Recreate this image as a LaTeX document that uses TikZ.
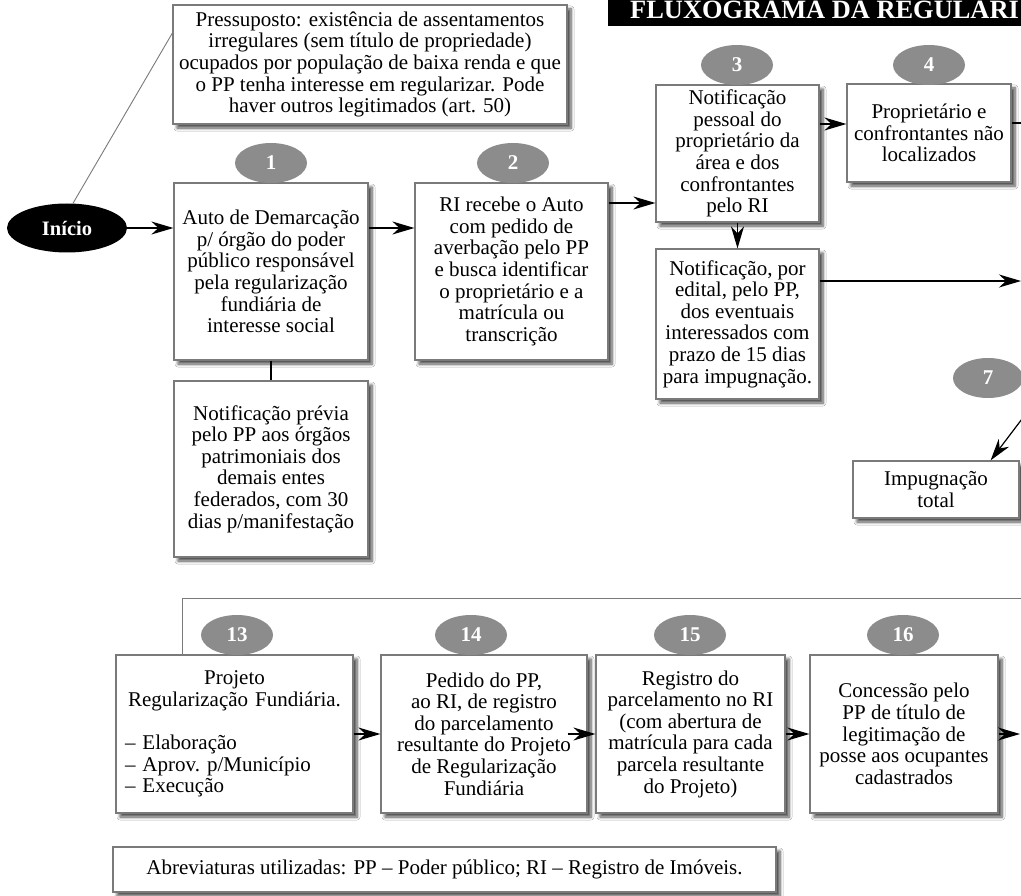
\documentclass[tikz,border=0pt]{standalone}
\usepackage{fontspec}
\setmainfont{Liberation Serif}
\usetikzlibrary{arrows.meta,shapes.geometric,shadows.blur}
\definecolor{boxgray}{HTML}{7A7A7A}
\definecolor{badgegray}{HTML}{8C8C8C}
\newcommand{\fsz}{\fontsize{21}{21.6}\selectfont}
\begin{document}
\begin{tikzpicture}[x=1pt,y=-1pt,
  box/.style={draw=boxgray, line width=1.2pt, fill=white, align=center, inner sep=2pt,
    font=\fsz, blur shadow={shadow xshift=4pt, shadow yshift=-4pt, shadow blur steps=6, shadow blur radius=3pt, shadow opacity=70}},
  badge/.style={ellipse, fill=badgegray, minimum width=72pt, minimum height=40pt, inner sep=0pt,
    text=white, font=\fontsize{21}{22}\selectfont\bfseries},
  arr/.style={-{Stealth[length=22pt,width=13pt,inset=7pt]}, line width=1.2pt, black},
  ln/.style={line width=1.2pt, black},
  thin/.style={line width=0.9pt, boxgray}
]
\clip (0,0) rectangle (1021,896);
\fill[white] (0,0) rectangle (1021,896);

% title bar
\fill[black] (608,-5) rectangle (1040,26);
\node[anchor=base west, inner sep=0pt, text=white, font=\fontsize{26.4}{28}\selectfont\bfseries] (title) at (630,19) {FLUXOGRAMA DA REGULARI};

% start
\node[ellipse, fill=black, minimum width=120pt, minimum height=49pt, inner sep=0pt, text=white,
  font=\fontsize{20.5}{22}\selectfont\bfseries] (inicio) at (67,228) {Início};

% boxes
\node[box, minimum width=394pt, minimum height=119pt] (press) at (370,64.5)
 {Pressuposto: existência de assentamentos\\irregulares (sem título de propriedade)\\ocupados por população de baixa renda e que\\o PP tenha interesse em regularizar. Pode\\haver outros legitimados (art. 50)};

\node[box, minimum width=194pt, minimum height=177pt] (b1) at (271,271.5)
 {Auto de Demarcação\\p/ órgão do poder\\público responsável\\pela regularização\\fundiária de\\interesse social};

\node[box, minimum width=194pt, minimum height=176pt] (pv) at (271,469)
 {Notificação prévia\\pelo PP aos órgãos\\patrimoniais dos\\demais entes\\federados, com 30\\dias p/manifestação};

\node[box, minimum width=193pt, minimum height=177pt] (b2) at (511.5,271.5)
 {RI recebe o Auto\\com pedido de\\averbação pelo PP\\e busca identificar\\o proprietário e a\\matrícula ou\\transcrição};

\node[box, minimum width=163pt, minimum height=137pt] (b3) at (737.5,153.5)
 {Notificação\\pessoal do\\proprietário da\\área e dos\\confrontantes\\pelo RI};

\node[box, minimum width=164pt, minimum height=98pt] (b4) at (929,133)
 {Proprietário e\\confrontantes não\\localizados};

\node[box, minimum width=163pt, minimum height=150pt] (ed) at (737.5,324)
 {Notificação, por\\edital, pelo PP,\\dos eventuais\\interessados com\\prazo de 15 dias\\para impugnação.};

\node[box, minimum width=166pt, minimum height=57pt] (imp) at (936,489.5)
 {Impugnação\\total};

\node[box, minimum width=237pt, minimum height=158pt, text width=219pt, align=left] (b13) at (234.5,734)
 {\setlength{\parindent}{0pt}{\centering Projeto\\Regularização Fundiária.\par}\vspace{21.6pt}– Elaboração\\– Aprov.\ p/Município\\– Execução};

\node[box, minimum width=206pt, minimum height=158pt] (b14) at (484,734)
 {Pedido do PP,\\ao RI, de registro\\do parcelamento\\resultante do Projeto\\de Regularização\\Fundiária};

\node[box, minimum width=189pt, minimum height=158pt] (b15) at (690.5,734)
 {Registro do\\parcelamento no RI\\(com abertura de\\matrícula para cada\\parcela resultante\\do Projeto)};

\node[box, minimum width=188pt, minimum height=158pt] (b16) at (904,734)
 {Concessão pelo\\PP de título de\\legitimação de\\posse aos ocupantes\\cadastrados};

\node[box, minimum width=663pt, minimum height=45pt] (abbr) at (444.5,869.5)
 {Abreviaturas utilizadas: PP – Poder público; RI – Registro de Imóveis.};

% badges
\node[badge] (n1) at (271,163) {1};
\node[badge] (n2) at (513,163) {2};
\node[badge] (n3) at (737,65) {3};
\node[badge] (n4) at (929,65) {4};
\node[badge, minimum width=70pt] (n7) at (988,378) {7};
\node[badge] (n13) at (237,635) {13};
\node[badge] (n14) at (471,635) {14};
\node[badge] (n15) at (690,635) {15};
\node[badge] (n16) at (903,635) {16};

% helper coordinates
\coordinate (y23) at (0,203);
\coordinate (y34) at (0,124);
\coordinate (e5) at (1021,281);
\coordinate (e4) at (1030,123);
\coordinate (s7) at (1030,408.4);
\coordinate (fr) at (1030,598);
\coordinate (e16) at (1020,734);

% connectors
\draw[thin] ([xshift=6pt]inicio.north) -- ([yshift=31.5pt]press.west);
\draw[arr] (inicio.east) -- (inicio.east -| b1.west);
\draw[arr] (b1.east |- inicio.east) -- (b2.west |- inicio.east);
\draw[ln] (b1.south) -- (pv.north);
\draw[arr] (b2.east |- y23) -- (b3.west |- y23);
\draw[arr] (b3.east |- y34) -- (b4.west |- y34);
\draw[ln] (b4.east |- e4) -- (e4);
\draw[arr] (b3.south) -- (ed.north);
\draw[arr] (ed.east |- e5) -- (e5);
\draw[arr] (s7) -- ([xshift=-29pt]imp.north east);
\draw[thin] ([xshift=-52.5pt]b13.north) |- (fr);
\draw[arr] (b13.east) -- (b14.west);
\draw[arr] ([xshift=-20pt]b14.east) -- (b15.west);
\draw[arr] (b15.east) -- (b16.west);
\draw[arr] (b16.east) -- (e16);
\end{tikzpicture}
\end{document}
